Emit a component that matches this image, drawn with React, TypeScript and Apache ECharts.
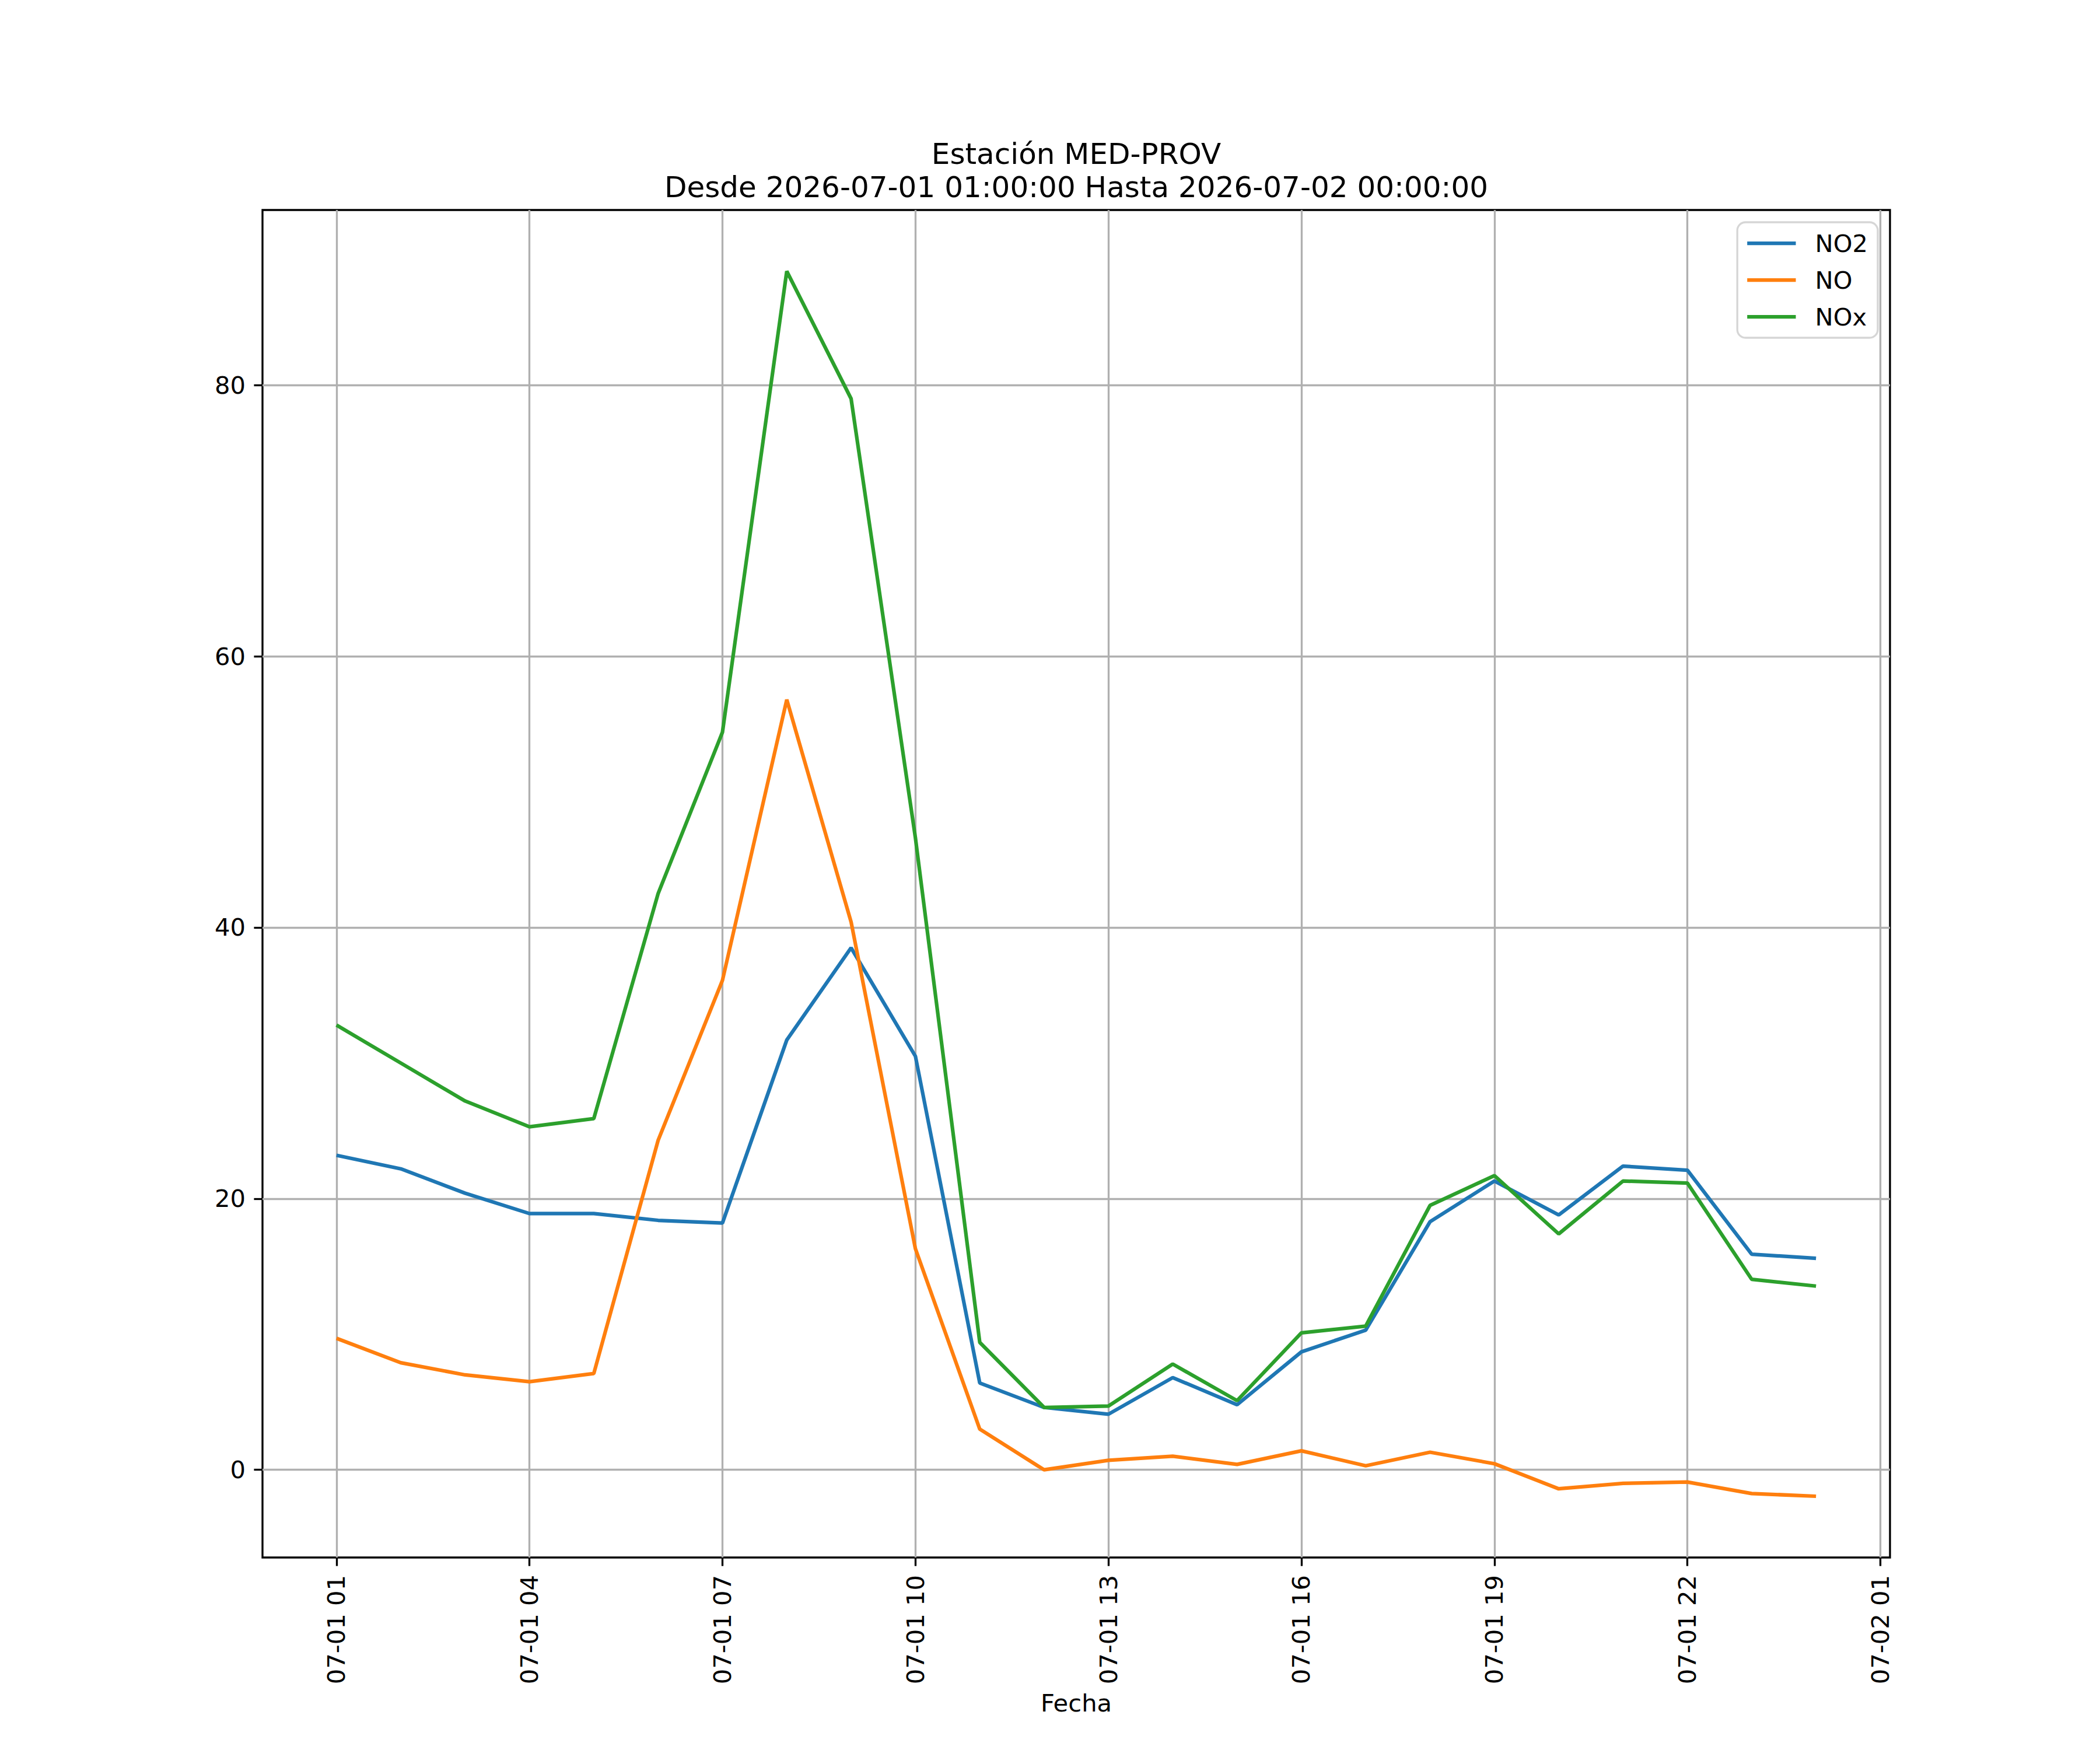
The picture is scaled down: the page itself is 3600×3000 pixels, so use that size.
import React, { useEffect, useRef } from 'react';
import * as echarts from 'echarts';

// hours since 2026-07-01 01:00
const hours = [0, 1, 2, 3, 4, 5, 6, 7, 8, 9, 10, 11, 12, 13, 14, 15, 16, 17, 18, 19, 20, 21, 22, 23];

const no2 = [23.2, 22.2, 20.4, 18.9, 18.9, 18.4, 18.2, 31.7, 38.5, 30.5, 6.4, 4.6, 4.1, 6.8, 4.8, 8.7, 10.3, 18.3, 21.3, 18.8, 22.4, 22.1, 15.9, 15.6];
const no = [9.7, 7.9, 7.0, 6.5, 7.1, 24.3, 36.1, 56.8, 40.4, 16.3, 3.0, 0.0, 0.7, 1.0, 0.4, 1.4, 0.3, 1.3, 0.45, -1.4, -1.0, -0.9, -1.75, -1.95];
const nox = [32.8, 30.0, 27.2, 25.3, 25.9, 42.5, 54.4, 88.4, 79.0, 46.6, 9.4, 4.6, 4.7, 7.8, 5.1, 10.1, 10.6, 19.5, 21.7, 17.4, 21.3, 21.15, 14.05, 13.55];

const xTickHours = [0, 3, 6, 9, 12, 15, 18, 21, 24];
const xTickLabels = ['07-01 01', '07-01 04', '07-01 07', '07-01 10', '07-01 13', '07-01 16', '07-01 19', '07-01 22', '07-02 01'];
const yTicks = [0, 20, 40, 60, 80];

const FONT = 'DejaVu Sans';
const PT = 300 / 72;

export default function App() {
  const chartRef = useRef<HTMLDivElement>(null);

  useEffect(() => {
    if (!chartRef.current) return;
    const chart = echarts.init(chartRef.current, null, { renderer: 'svg' });

    // matplotlib-style 5% margins
    const all = [...no2, ...no, ...nox];
    const yLo = Math.min(...all);
    const yHi = Math.max(...all);
    const yPad = (yHi - yLo) * 0.05;
    const xLo = hours[0];
    const xHi = hours[hours.length - 1];
    const xPad = (xHi - xLo) * 0.05;

    const gridLine = { show: true, lineStyle: { color: '#b0b0b0', width: 0.8 * PT } };
    const tick = { show: true, length: 3.5 * PT, lineStyle: { color: '#000', width: 0.8 * PT } };

    const mk = (name: string, vals: number[], color: string) => ({
      name,
      type: 'line',
      data: hours.map((h, i) => [h, vals[i]]),
      symbol: 'none',
      showSymbol: false,
      lineStyle: { color, width: 1.5 * PT },
      itemStyle: { color },
      z: 3,
    });

    chart.setOption({
      animation: false,
      backgroundColor: '#fff',
      title: {
        text: 'Estación MED-PROV\nDesde 2026-07-01 01:00:00 Hasta 2026-07-02 00:00:00',
        left: 1845,
        top: 235,
        textAlign: 'center',
        padding: 0,
        textStyle: {
          fontFamily: FONT,
          fontSize: 12 * PT,
          fontWeight: 'normal',
          color: '#000',
          lineHeight: 57,
        },
      },
      legend: {
        orient: 'vertical',
        right: 381,
        top: 381,
        icon: 'rect',
        itemWidth: 20 * PT,
        itemHeight: 1.5 * PT,
        itemGap: 21,
        padding: [15, 17, 15, 17],
        backgroundColor: 'rgba(255,255,255,0.8)',
        borderColor: '#d6d6d6',
        borderWidth: 0.8 * PT,
        borderRadius: 14,
        textStyle: {
          fontFamily: FONT,
          fontSize: 10 * PT,
          lineHeight: 42,
          color: '#000',
          padding: [0, 0, 0, 28],
        },
        data: ['NO2', 'NO', 'NOx'],
      },
      grid: {
        left: 450,
        right: 360,
        top: 360,
        bottom: 330,
        show: true,
        borderColor: '#000',
        borderWidth: 0.8 * PT,
        backgroundColor: 'transparent',
      },
      xAxis: {
        type: 'value',
        min: xLo - xPad,
        max: xHi + xPad,
        name: 'Fecha',
        nameLocation: 'middle',
        nameGap: 228,
        nameTextStyle: { fontFamily: FONT, fontSize: 10 * PT, color: '#000' },
        axisLine: { show: false, onZero: false },
        axisTick: { ...tick, customValues: xTickHours },
        splitLine: gridLine,
        axisLabel: {
          customValues: xTickHours,
          rotate: 90,
          margin: 30,
          fontFamily: FONT,
          fontSize: 10 * PT,
          color: '#000',
          formatter: (v: number) => {
            const i = xTickHours.indexOf(Math.round(v));
            return i >= 0 ? xTickLabels[i] : '';
          },
        },
      },
      yAxis: {
        type: 'value',
        min: yLo - yPad,
        max: yHi + yPad,
        axisLine: { show: false, onZero: false },
        axisTick: { ...tick, customValues: yTicks },
        splitLine: gridLine,
        axisLabel: {
          customValues: yTicks,
          margin: 29,
          fontFamily: FONT,
          fontSize: 10 * PT,
          color: '#000',
          formatter: (v: number) => String(Math.round(v)),
        },
      },
      series: [
        mk('NO2', no2, '#1f77b4'),
        mk('NO', no, '#ff7f0e'),
        mk('NOx', nox, '#2ca02c'),
      ],
    });

    return () => {
      chart.dispose();
    };
  }, []);

  return (
    <div style={{ position: 'absolute', left: 0, top: 0, width: 3600, height: 3000, background: '#fff' }}>
      <div ref={chartRef} style={{ width: 3600, height: 3000 }} />
    </div>
  );
}
